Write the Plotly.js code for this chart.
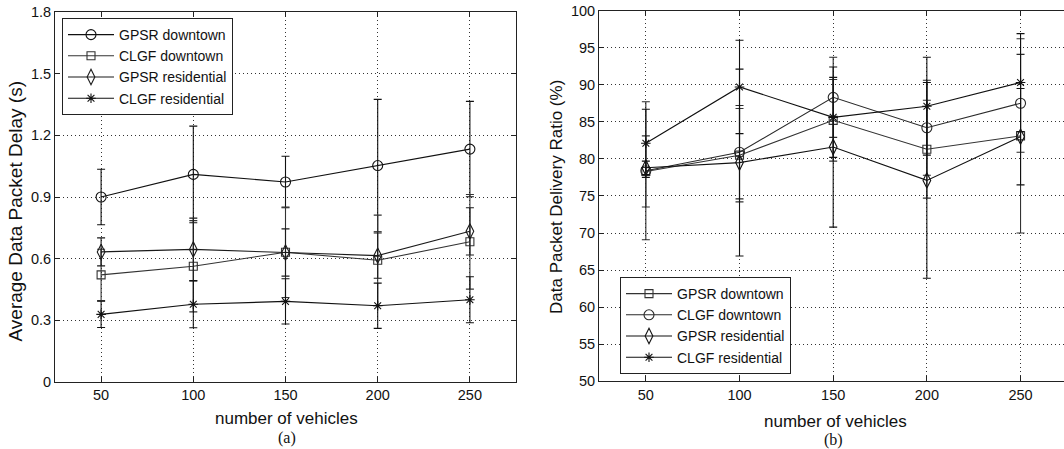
<!DOCTYPE html>
<html>
<head>
<meta charset="utf-8">
<script src="https://cdn.plot.ly/plotly-3.0.1.min.js"></script>
<style>html,body{margin:0;padding:0;background:#fff;}#chart{width:1064px;height:449px;}</style>
</head>
<body>
<div id="chart"></div>
<script>
// ---------- data ----------
const vehicles = [50, 100, 150, 200, 250];

// (a) Average data packet delay (s)
const delayGpsrDowntown      = [0.90, 1.01, 0.973, 1.053, 1.133];
const delayGpsrDowntownErr   = [0.135, 0.235, 0.125, 0.322, 0.232];
const delayClgfDowntown      = [0.521, 0.563, 0.631, 0.592, 0.682];
const delayClgfDowntownErr   = [0.125, 0.222, 0.22, 0.22, 0.23];
const delayGpsrResidential   = [0.633, 0.645, 0.63, 0.615, 0.733];
const delayGpsrResidentialErr= [0.068, 0.152, 0.115, 0.11, 0.115];
const delayClgfResidential   = [0.329, 0.378, 0.392, 0.371, 0.4];
const delayClgfResidentialErr= [0.064, 0.114, 0.11, 0.11, 0.112];

// (b) Data packet delivery ratio (%)
const pdrGpsrDowntown        = [78.3, 80.5, 85.2, 81.3, 83.1];
const pdrGpsrDowntownErr     = [4.8, 6.3, 5.5, 6.6, 13.1];
const pdrClgfDowntown        = [78.4, 80.9, 88.3, 84.2, 87.5];
const pdrClgfDowntownErr     = [9.3, 6.3, 5.4, 6.4, 6.6];
const pdrGpsrResidential     = [78.8, 79.5, 81.6, 77.1, 83.0];
const pdrGpsrResidentialErr  = [0.9, 12.6, 10.8, 13.2, 6.5];
const pdrClgfResidential     = [82.1, 89.7, 85.6, 87.1, 90.3];
const pdrClgfResidentialErr  = [4.6, 6.3, 5.4, 6.6, 6.6];

const namesA = ['GPSR downtown', 'CLGF downtown', 'GPSR residential', 'CLGF residential'];
const namesB = ['GPSR downtown', 'CLGF downtown', 'GPSR residential', 'CLGF residential'];

// ---------- styling ----------
const W = 1064, H = 449;
const FONT = 'Liberation Sans, Arial, Helvetica, sans-serif';
const SERIF = 'Liberation Serif, Times New Roman, serif';

function series(name, y, err, symbol, size, color, xa, ya, legend) {
  return {
    type: 'scatter', mode: 'lines+markers', name: name,
    x: vehicles, y: y, xaxis: xa, yaxis: ya, legend: legend,
    line: {color: color, width: 1.1},
    marker: {symbol: symbol, size: size, color: color, line: {color: color, width: 1.1}},
    error_y: {type: 'data', array: err, visible: true, color: color, thickness: 1.1, width: 4},
    cliponaxis: false
  };
}

const traces = [
  series(namesA[0], delayGpsrDowntown, delayGpsrDowntownErr, 'circle-open', 10, '#111', 'x', 'y', 'legend'),
  series(namesA[1], delayClgfDowntown, delayClgfDowntownErr, 'square-open', 8, '#333', 'x', 'y', 'legend'),
  series(namesA[2], delayGpsrResidential, delayGpsrResidentialErr, 'diamond-tall-open', 11, '#1a1a1a', 'x', 'y', 'legend'),
  series(namesA[3], delayClgfResidential, delayClgfResidentialErr, 'asterisk-open', 8, '#111', 'x', 'y', 'legend'),
  series(namesB[0], pdrGpsrDowntown, pdrGpsrDowntownErr, 'square-open', 8, '#333', 'x2', 'y2', 'legend2'),
  series(namesB[1], pdrClgfDowntown, pdrClgfDowntownErr, 'circle-open', 10, '#2a2a2a', 'x2', 'y2', 'legend2'),
  series(namesB[2], pdrGpsrResidential, pdrGpsrResidentialErr, 'diamond-tall-open', 11, '#111', 'x2', 'y2', 'legend2'),
  series(namesB[3], pdrClgfResidential, pdrClgfResidentialErr, 'asterisk-open', 8, '#111', 'x2', 'y2', 'legend2')
];

const gridStyle = {showgrid: true, gridcolor: '#333', gridwidth: 1, griddash: '1px,3px'};
function axis(extra) {
  return Object.assign({
    showline: true, linecolor: '#222', linewidth: 1,
    ticks: 'inside', ticklen: 5, tickcolor: '#222', tickwidth: 1,
    zeroline: false, fixedrange: true,
    tickfont: {family: FONT, size: 14.5, color: '#111'}
  }, gridStyle, extra);
}

const px = v => v / W;
const py = v => 1 - v / H;

const layout = {
  width: W, height: H,
  margin: {l: 0, r: 0, t: 0, b: 0},
  paper_bgcolor: '#fff', plot_bgcolor: '#fff',
  showlegend: true,
  font: {family: FONT, color: '#111'},
  xaxis: axis({domain: [px(55), px(516)], range: [25, 275], tickvals: vehicles, mirror: 'ticks', anchor: 'y'}),
  yaxis: axis({domain: [py(382), py(12)], range: [0, 1.8], dtick: 0.3, tick0: 0, mirror: 'ticks', anchor: 'x'}),
  xaxis2: axis({domain: [px(599), 1], range: [25, 273.2], tickvals: vehicles, mirror: 'ticks', anchor: 'y2'}),
  yaxis2: axis({domain: [py(381.3), py(10.6)], range: [50, 100], dtick: 5, tick0: 50, mirror: false, anchor: 'x2'}),
  legend: {
    x: px(62), y: py(18), xanchor: 'left', yanchor: 'top',
    bgcolor: '#fff', bordercolor: '#222', borderwidth: 1,
    font: {family: FONT, size: 14, color: '#111'}, itemwidth: 46, tracegroupgap: 0
  },
  legend2: {
    x: px(620), y: py(277), xanchor: 'left', yanchor: 'top',
    bgcolor: '#fff', bordercolor: '#222', borderwidth: 1,
    font: {family: FONT, size: 14, color: '#111'}, itemwidth: 46, tracegroupgap: 0
  },
  annotations: [
    {text: 'number of vehicles', xref: 'paper', yref: 'paper', x: px(286), y: py(418), xanchor: 'center', yanchor: 'middle', showarrow: false, font: {family: FONT, size: 17, color: '#111'}},
    {text: '(a)', xref: 'paper', yref: 'paper', x: px(287), y: py(437.5), xanchor: 'center', yanchor: 'middle', showarrow: false, font: {family: SERIF, size: 16, color: '#111'}},
    {text: 'Average Data Packet Delay (s)', xref: 'paper', yref: 'paper', x: px(15), y: py(211.5), xanchor: 'center', yanchor: 'middle', textangle: -90, showarrow: false, font: {family: FONT, size: 19, color: '#111'}},
    {text: 'number of vehicles', xref: 'paper', yref: 'paper', x: px(835), y: py(421), xanchor: 'center', yanchor: 'middle', showarrow: false, font: {family: FONT, size: 17, color: '#111'}},
    {text: '(b)', xref: 'paper', yref: 'paper', x: px(833), y: py(440), xanchor: 'center', yanchor: 'middle', showarrow: false, font: {family: SERIF, size: 16, color: '#111'}},
    {text: 'Data Packet Delivery Ratio (%)', xref: 'paper', yref: 'paper', x: px(556.5), y: py(197.5), xanchor: 'center', yanchor: 'middle', textangle: -90, showarrow: false, font: {family: FONT, size: 17, color: '#111'}}
  ]
};

Plotly.newPlot('chart', traces, layout, {displayModeBar: false, staticPlot: true});
</script>
</body>
</html>
